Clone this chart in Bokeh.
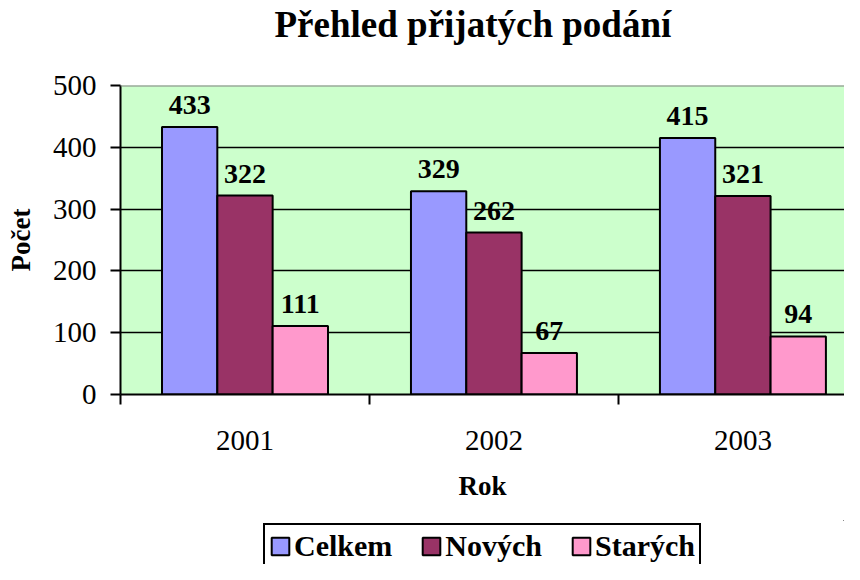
from bokeh.plotting import figure
from bokeh.models import (ColumnDataSource, Range1d, FixedTicker, Legend, LegendItem, Span)
from bokeh.layouts import column
from bokeh.transform import dodge
from bokeh.core.properties import value
from bokeh.embed import file_html
from bokeh.resources import INLINE

# ---- data ----
title_text = "Přehled přijatých podání"
years = ["2001", "2002", "2003"]
celkem = [433, 329, 415]
novych = [322, 262, 321]
starych = [111, 67, 94]
series_names = ["Celkem", "Nových", "Starých"]
series_colors = ["#9999FF", "#993366", "#FF99CC"]
y_ticks = [0, 100, 200, 300, 400, 500]

FONT = "Liberation Serif"

xc = [i + 0.5 for i in range(len(years))]
src = ColumnDataSource(dict(
    xc=xc,
    celkem=celkem, novych=novych, starych=starych,
    celkem_t=[str(v) for v in celkem],
    novych_t=[str(v) for v in novych],
    starych_t=[str(v) for v in starych],
))

W = 1 / 4.5  # bar width (gap width 150%)
WIDTH = 844
H_HEAD = 65
H_MAIN = 455
H_LEG = 44
FRAME_W = WIDTH - 120

# ---- header strip with the title ----
ph = figure(width=WIDTH, height=H_HEAD, output_backend="svg", toolbar_location=None,
            x_range=Range1d(0, FRAME_W), y_range=Range1d(0, H_HEAD),
            min_border=0, outline_line_color=None)
ph.axis.visible = False
ph.grid.visible = False
ph.text(x=[154], y=[41], text=[title_text], text_align="left", text_baseline="alphabetic",
        text_font=value(FONT), text_font_style="bold", text_font_size="37px",
        text_color="black")

# ---- main chart ----
p = figure(width=WIDTH, height=H_MAIN, output_backend="svg", toolbar_location=None,
           x_range=Range1d(0, 2.908), y_range=Range1d(0, 500),
           min_border_left=120, min_border_right=0, min_border_top=20,
           min_border_bottom=126)

p.background_fill_color = "#CCFFCC"
p.border_fill_color = "white"
p.outline_line_color = None
p.add_layout(Span(location=y_ticks[-1], dimension="width", line_color="#808080", line_width=2))

cols = ["celkem", "novych", "starych"]
offsets = [-W, 0, W]
for col, off, color in zip(cols, offsets, series_colors):
    p.vbar(x=dodge("xc", off, range=p.x_range), top=col, width=W, bottom=0,
           source=src, fill_color=color, line_color="black", line_width=2)
    p.text(x=dodge("xc", off, range=p.x_range), y=col, text=col + "_t", source=src,
           text_align="center", text_baseline="alphabetic", y_offset=-22,
           text_font=value(FONT), text_font_style="bold", text_font_size="28px",
           text_color="black")

# grid
p.xgrid.visible = False
p.ygrid.ticker = FixedTicker(ticks=y_ticks[1:-1])
p.ygrid.grid_line_color = "black"
p.ygrid.grid_line_width = 1.5

# y axis
p.yaxis.ticker = FixedTicker(ticks=y_ticks)
p.yaxis.axis_line_color = "black"
p.yaxis.axis_line_width = 2
p.yaxis.major_tick_line_width = 2
p.yaxis.major_tick_out = 10
p.yaxis.major_tick_in = 0
p.yaxis.minor_tick_line_color = None
p.yaxis.major_label_standoff = 14
p.yaxis.major_label_text_font = FONT
p.yaxis.major_label_text_font_size = "29px"
p.yaxis.major_label_text_color = "black"
p.yaxis.axis_label = "Počet"
p.yaxis.axis_label_text_font = FONT
p.yaxis.axis_label_text_font_size = "27px"
p.yaxis.axis_label_text_font_style = "bold"
p.yaxis.axis_label_text_color = "black"
p.yaxis.axis_label_standoff = 14

# x axis
p.xaxis.ticker = FixedTicker(ticks=xc, minor_ticks=list(range(len(years) + 1)))
p.xaxis.major_label_overrides = {x: y for x, y in zip(xc, years)}
p.xaxis.axis_line_color = "black"
p.xaxis.axis_line_width = 2
p.xaxis.major_tick_line_color = None
p.xaxis.major_tick_out = 10
p.xaxis.minor_tick_line_color = "black"
p.xaxis.minor_tick_line_width = 2
p.xaxis.minor_tick_out = 10
p.xaxis.minor_tick_in = 0
p.xaxis.major_label_standoff = 26
p.xaxis.major_label_text_font = FONT
p.xaxis.major_label_text_font_size = "29px"
p.xaxis.major_label_text_color = "black"
p.xaxis.axis_label = "Rok"
p.xaxis.axis_label_text_font = FONT
p.xaxis.axis_label_text_font_size = "27px"
p.xaxis.axis_label_text_font_style = "bold"
p.xaxis.axis_label_text_color = "black"
p.xaxis.axis_label_standoff = 18

# ---- legend strip (separate figure below the chart) ----
pl = figure(width=WIDTH, height=H_LEG, output_backend="svg", toolbar_location=None,
            x_range=Range1d(10, 11), y_range=Range1d(10, 11),
            min_border=0, outline_line_color=None)
pl.axis.visible = False
pl.grid.visible = False
leg_renderers = []
for name, color in zip(series_names, series_colors):
    # swatch-only renderers, kept far outside the visible range
    r = pl.vbar(x=[1000], top=[1000], bottom=[999], width=0.5,
                fill_color=color, line_color="black", line_width=2)
    leg_renderers.append(r)

legend = Legend(items=[LegendItem(label=n, renderers=[r]) for n, r in zip(series_names, leg_renderers)],
                orientation="horizontal", location=(143, -5),
                label_text_font=FONT, label_text_font_size="30px",
                label_text_font_style="bold", label_text_color="black",
                glyph_width=22, glyph_height=22, label_standoff=3, spacing=28,
                padding=4, margin=0,
                border_line_color="black", border_line_width=2, border_line_alpha=1,
                background_fill_color="white", background_fill_alpha=1)
pl.add_layout(legend, "center")

layout = column(ph, p, pl, spacing=0)
open("out.html", "w").write(file_html(layout, INLINE))
